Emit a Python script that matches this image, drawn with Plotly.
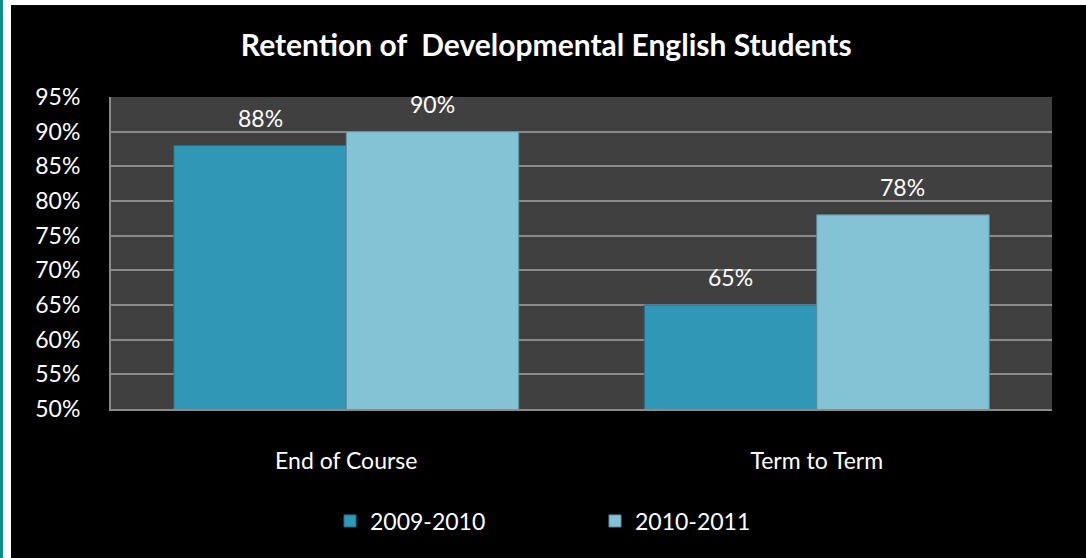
import plotly.graph_objects as go

categories = ["End of Course", "Term to Term"]
series_names = ["2009-2010", "2010-2011"]
values_2009 = [88, 65]
values_2010 = [90, 78]
y_ticks = [50, 55, 60, 65, 70, 75, 80, 85, 90, 95]
title_text = "Retention of\u00a0 Developmental English Students"

FONT = "Lato"
W, H = 1086, 558
ML, MR, MT, MB = 111, 34, 97, 149
PW = W - ML - MR
PH = H - MT - MB

colors = ["#3098b6", "#84c2d6"]
line_colors = ["#1f6f88", "#5f8f9e"]

fig = go.Figure()
for name, vals, c, lc in zip(series_names, [values_2009, values_2010], colors, line_colors):
    fig.add_trace(go.Bar(
        x=categories, y=vals, name=name,
        marker=dict(color=c, line=dict(color=lc, width=1)),
    ))

# value labels
offsets = [-0.1833, 0.1833]
annotations = []
for off, vals in zip(offsets, [values_2009, values_2010]):
    for i, v in enumerate(vals):
        annotations.append(dict(
            x=i + off, y=v, xref="x", yref="y", text=f"{v}%",
            showarrow=False, yanchor="bottom", yshift=12,
            font=dict(family=FONT, size=23, color="white"),
        ))

def px_to_paper_x(px):
    return (px - ML) / PW

def py_to_paper_y(py):
    return (H - MB - py) / PH

shapes = [
    dict(type="rect", xref="paper", yref="paper",
         x0=px_to_paper_x(-5), x1=px_to_paper_x(W + 5),
         y0=py_to_paper_y(5), y1=py_to_paper_y(-5),
         fillcolor="white", line=dict(width=0), layer="above"),
    dict(type="rect", xref="paper", yref="paper",
         x0=px_to_paper_x(-5), x1=px_to_paper_x(11),
         y0=py_to_paper_y(H + 5), y1=py_to_paper_y(-5),
         fillcolor="white", line=dict(width=0), layer="above"),
    dict(type="rect", xref="paper", yref="paper",
         x0=px_to_paper_x(-5), x1=px_to_paper_x(3),
         y0=py_to_paper_y(H + 5), y1=py_to_paper_y(-5),
         fillcolor="#0f8f8a", line=dict(width=0), layer="above"),
]

fig.update_layout(
    width=W, height=H,
    margin=dict(l=ML, r=MR, t=MT, b=MB, autoexpand=False),
    paper_bgcolor="black",
    plot_bgcolor="#404040",
    barmode="group",
    bargap=0.267,
    bargroupgap=0,
    font=dict(family=FONT, size=23, color="white"),
    title=dict(text=title_text, x=0.503, xanchor="center", y=1 - 45 / H,
               yanchor="middle", yref="container",
               font=dict(family=FONT, size=30, color="white", weight="bold")),
    xaxis=dict(showgrid=False, showline=True, linecolor="#8a8a8a", linewidth=2,
               ticks="", ticklabelstandoff=30,
               tickfont=dict(family=FONT, size=23, color="white")),
    yaxis=dict(range=[50, 95], tickvals=y_ticks,
               ticktext=[f"{t}%" for t in y_ticks],
               showgrid=True, gridcolor="#8a8a8a", gridwidth=2,
               showline=True, linecolor="#8a8a8a", linewidth=2,
               zeroline=False, ticks="", ticklabelstandoff=24,
               tickfont=dict(family=FONT, size=23, color="white")),
    legend=dict(orientation="h", x=px_to_paper_x(330), xanchor="left",
                y=py_to_paper_y(521), yanchor="middle",
                entrywidth=220, entrywidthmode="pixels",
                font=dict(family=FONT, size=23, color="white"),
                bgcolor="rgba(0,0,0,0)"),
    annotations=annotations,
    shapes=shapes,
)

fig.write_html("out.html", config={"displayModeBar": False},
               post_script="document.body.style.margin='0';")
